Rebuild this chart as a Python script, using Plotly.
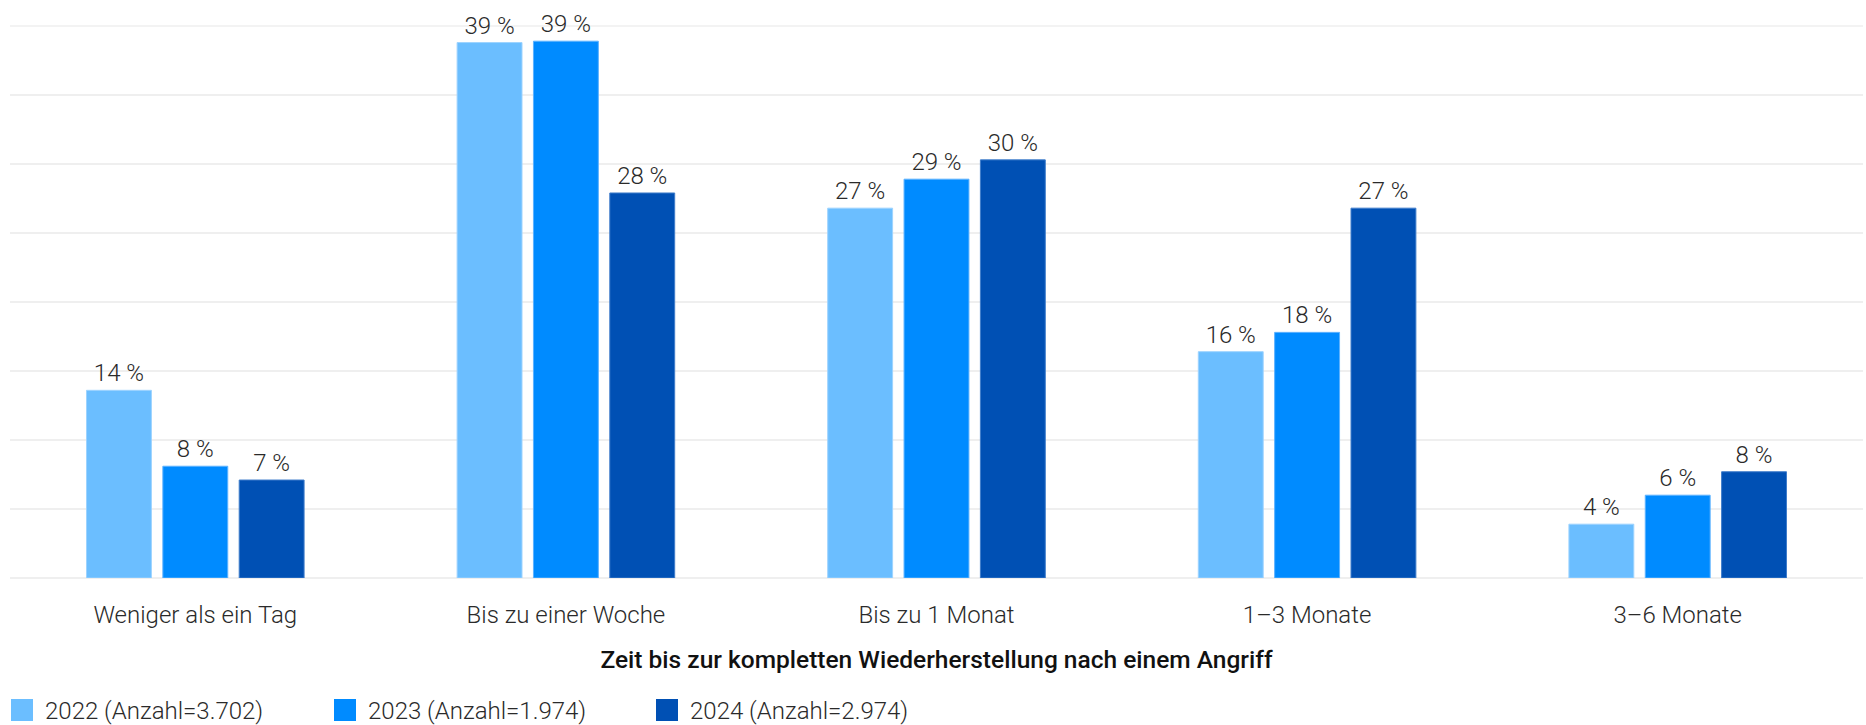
import plotly.graph_objects as go

categories = ["Weniger als ein Tag", "Bis zu einer Woche", "Bis zu 1 Monat", "1–3 Monate", "3–6 Monate"]
series_names = ["2022 (Anzahl=3.702)", "2023 (Anzahl=1.974)", "2024 (Anzahl=2.974)"]
values_2022 = [13.6, 38.8, 26.8, 16.4, 3.9]
values_2023 = [8.1, 38.9, 28.9, 17.8, 6.0]
values_2024 = [7.1, 27.9, 30.3, 26.8, 7.7]
colors = ["#6BBEFF", "#008BFF", "#0050B4"]
line_colors = ["#9DD3FF", "#5DB2FF", "#3F7DCB"]
axis_title = "Zeit bis zur kompletten Wiederherstellung nach einem Angriff"
y_max = 40

FONT = "Roboto"
TEXT = "#2a2a2a"
GRID = "#EFEFEF"

W, H = 1866, 725
ML, MR, MT, MB = 10, 3, 26, 147
PW, PH = W - ML - MR, H - MT - MB


def px_x(px):
    return (px - ML) / PW


def px_y(py):
    return (H - MB - py) / PH


fig = go.Figure()
for name, vals, c, lc in zip(series_names, [values_2022, values_2023, values_2024], colors, line_colors):
    fig.add_trace(go.Bar(
        x=categories, y=vals, name=name,
        marker=dict(color=c, line=dict(color=lc, width=1)),
        text=[f"{round(v)} %" for v in vals],
        textposition="outside",
        textfont=dict(family=FONT, size=24, color=TEXT, weight=300),
        cliponaxis=False,
        showlegend=False,
    ))

# top gridline at the end of the value axis (range top = y_max), drawn unclipped
fig.add_shape(type="line", xref="paper", yref="paper", x0=0, x1=1, y0=1, y1=1,
              line=dict(color=GRID, width=1.5), layer="below")

# custom legend (larger squares like the reference)
legend_x = [11, 334, 656]
for name, c, lx in zip(series_names, colors, legend_x):
    fig.add_shape(type="rect", xref="paper", yref="paper",
                  x0=px_x(lx), x1=px_x(lx + 22), y0=px_y(721), y1=px_y(699),
                  fillcolor=c, line=dict(width=0))
    fig.add_annotation(xref="paper", yref="paper", x=px_x(lx + 32), y=px_y(711),
                       xanchor="left", yanchor="middle", showarrow=False, text=name,
                       font=dict(family=FONT, size=24, color=TEXT, weight=300))

fig.update_layout(
    width=W, height=H,
    margin=dict(l=ML, r=MR, t=MT, b=MB, autoexpand=False),
    paper_bgcolor="white", plot_bgcolor="white",
    barmode="group", bargap=0.382, bargroupgap=0.15,
    font=dict(family=FONT, color=TEXT),
    showlegend=False,
    xaxis=dict(
        showgrid=False, showline=False, ticks="",
        ticklabelstandoff=20,
        tickfont=dict(family=FONT, size=24, color=TEXT, weight=300),
        title=dict(text=axis_title, standoff=22,
                   font=dict(family=FONT, size=24.5, color="#111", weight=500)),
    ),
    yaxis=dict(
        range=[0, y_max], tick0=0, dtick=5, showticklabels=False,
        gridcolor=GRID, gridwidth=1.5, zeroline=True, zerolinecolor=GRID, zerolinewidth=1.5,
    ),
)

fig.write_html("out.html", config={"displayModeBar": False},
               post_script="document.body.style.margin='0';document.body.style.overflow='hidden';")
